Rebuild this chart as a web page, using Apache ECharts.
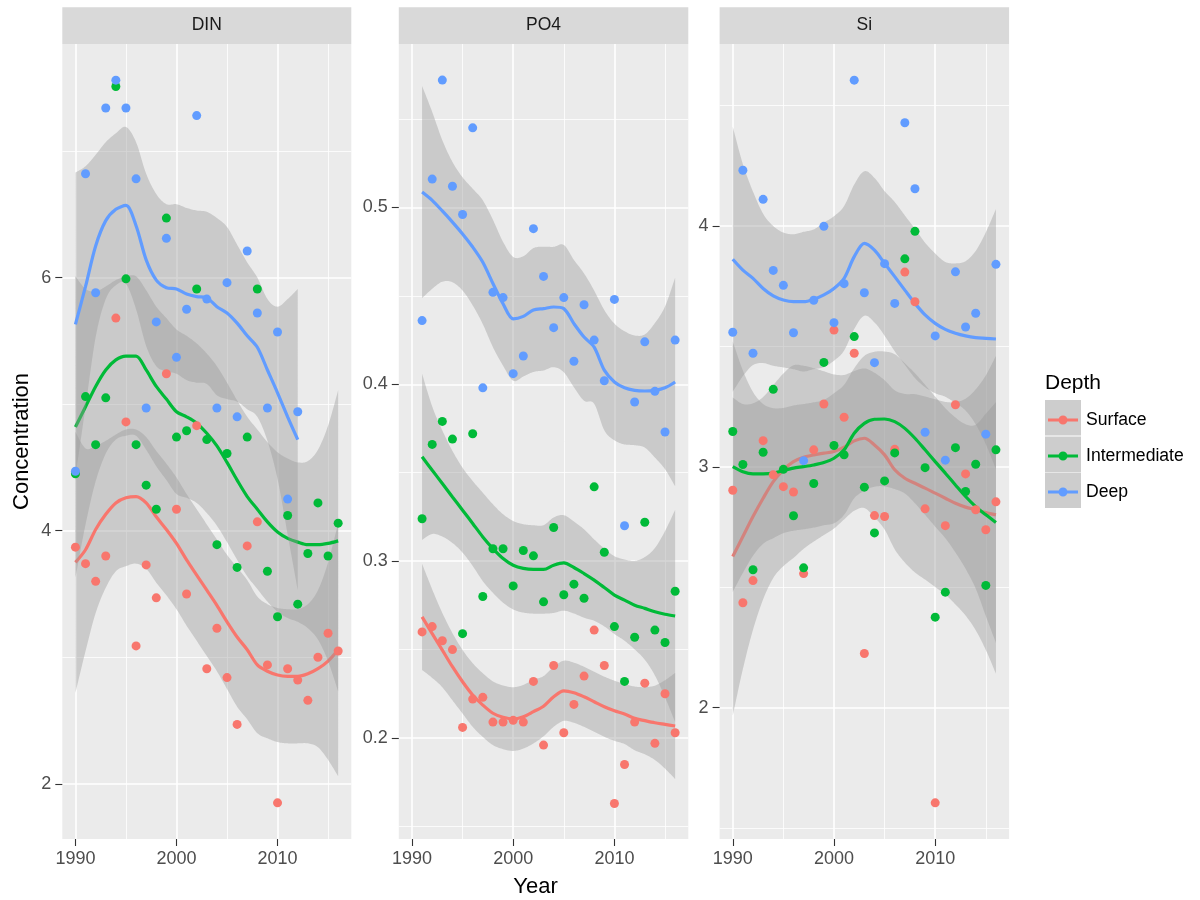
<!DOCTYPE html>
<html><head><meta charset="utf-8">
<script src="https://cdn.jsdelivr.net/npm/echarts@6/dist/echarts.min.js"></script>
<style>html,body{margin:0;padding:0;background:#fff}#chart{width:1200px;height:900px}</style>
</head><body><div id="chart"></div>
<script>
// ---------- data ----------
const years = [1990,1991,1992,1993,1994,1995,1996,1997,1998,1999,2000,2001,2002,2003,2004,2005,2006,2007,2008,2009,2010,2011,2012,2013,2014,2015,2016];
const panelNames = ['DIN', 'PO4', 'Si'];
const depthNames = ['Surface', 'Intermediate', 'Deep'];
const xTicks = [1990, 2000, 2010];
const xMinorTicks = [1995, 2005, 2015];
const dinTicks = [2, 4, 6];
const dinMinorTicks = [3, 5, 7];
const po4Ticks = [0.2, 0.3, 0.4, 0.5];
const po4MinorTicks = [0.15, 0.25, 0.35, 0.45, 0.55];
const siTicks = [2, 3, 4];
const siMinorTicks = [1.5, 2.5, 3.5, 4.5];

// observed points
const dinSurface = [3.87,3.74,3.60,3.80,5.68,4.86,3.09,3.73,3.47,5.24,4.17,3.50,4.83,2.91,3.23,2.84,2.47,3.88,4.07,2.94,1.85,2.91,2.82,2.66,3.00,3.19,3.05];
const dinInter   = [4.45,5.06,4.68,5.05,7.51,5.99,4.68,4.36,4.17,6.47,4.74,4.79,5.91,4.72,3.89,4.61,3.71,4.74,5.91,3.68,3.32,4.12,3.42,3.82,4.22,3.80,4.06];
const dinDeep    = [4.47,6.82,5.88,7.34,7.56,7.34,6.78,4.97,5.65,6.31,5.37,5.75,7.28,5.83,4.97,5.96,4.90,6.21,5.72,4.97,5.57,4.25,4.94,null,null,null,null];
const po4Surface = [null,0.260,0.263,0.255,0.250,0.206,0.222,0.223,0.209,0.209,0.210,0.209,0.232,0.196,0.241,0.203,0.219,0.235,0.261,0.241,0.163,0.185,0.209,0.231,0.197,0.225,0.203];
const po4Inter   = [null,0.324,0.366,0.379,0.369,0.259,0.372,0.280,0.307,0.307,0.286,0.306,0.303,0.277,0.319,0.281,0.287,0.279,0.342,0.305,0.263,0.232,0.257,0.322,0.261,0.254,0.283];
const po4Deep    = [null,0.436,0.516,0.572,0.512,0.496,0.545,0.398,0.452,0.449,0.406,0.416,0.488,0.461,0.432,0.449,0.413,0.445,0.425,0.402,0.448,0.320,0.390,0.424,0.396,0.373,0.425];
const siSurface  = [2.903,2.436,2.528,3.109,2.967,2.918,2.896,2.557,3.071,3.261,3.568,3.206,3.472,2.225,2.798,2.794,3.073,3.809,3.686,2.826,1.605,2.756,3.258,2.971,2.822,2.739,2.855];
const siInter    = [3.147,3.010,2.573,3.061,3.322,2.990,2.797,2.581,2.931,3.434,3.089,3.050,3.541,2.916,2.726,2.942,3.058,3.864,3.978,2.997,2.376,2.480,3.080,2.898,3.011,2.508,3.071];
const siDeep     = [3.559,4.232,3.472,4.111,3.816,3.754,3.557,3.026,3.692,3.999,3.599,3.761,4.606,3.723,3.433,3.844,3.679,4.429,4.155,3.144,3.544,3.028,3.810,3.581,3.638,3.136,3.841];

// smoothed (loess) fits
const dinSurfaceFit = [3.75,3.85,4.01,4.13,4.22,4.26,4.27,4.22,4.11,4.01,3.90,3.77,3.65,3.53,3.41,3.28,3.16,3.06,2.94,2.89,2.86,2.85,2.85,2.87,2.91,2.97,3.06];
const dinInterFit   = [4.82,4.98,5.14,5.27,5.35,5.38,5.38,5.27,5.14,5.04,4.94,4.90,4.85,4.77,4.67,4.54,4.40,4.27,4.17,4.07,3.99,3.94,3.91,3.89,3.89,3.90,3.92];
const dinDeepFit    = [5.63,5.93,6.25,6.45,6.54,6.57,6.41,6.14,5.98,5.92,5.91,5.87,5.85,5.84,5.77,5.72,5.64,5.54,5.45,5.27,5.09,4.90,4.72,null,null,null,null];
const po4SurfaceFit = [null,0.2685,0.2590,0.2497,0.2403,0.2318,0.2243,0.2186,0.2140,0.2117,0.2107,0.2120,0.2149,0.2180,0.2233,0.2267,0.2256,0.2233,0.2205,0.2177,0.2154,0.2136,0.2111,0.2098,0.2086,0.2077,0.2068];
const po4InterFit   = [null,0.3590,0.3514,0.3439,0.3363,0.3288,0.3213,0.3137,0.3071,0.3015,0.2977,0.2959,0.2953,0.2953,0.2977,0.2990,0.2964,0.2930,0.2893,0.2851,0.2808,0.2780,0.2751,0.2733,0.2714,0.2700,0.2690];
const po4DeepFit    = [null,0.5087,0.5040,0.4980,0.4917,0.4850,0.4776,0.4690,0.4570,0.4455,0.4370,0.4384,0.4420,0.4428,0.4437,0.4428,0.4343,0.4267,0.4210,0.4080,0.4013,0.3980,0.3966,0.3962,0.3966,0.3980,0.4013];
const siSurfaceFit  = [2.628,2.711,2.794,2.870,2.939,2.988,3.022,3.040,3.050,3.057,3.064,3.082,3.108,3.119,3.091,3.050,2.988,2.953,2.932,2.912,2.891,2.870,2.849,2.833,2.822,2.810,2.801];
const siInterFit    = [3.001,2.980,2.971,2.971,2.974,2.985,2.995,3.001,3.008,3.018,3.036,3.071,3.140,3.181,3.198,3.199,3.188,3.160,3.119,3.071,3.022,2.974,2.925,2.877,2.835,2.801,2.769];
const siDeepFit     = [3.862,3.817,3.783,3.741,3.710,3.693,3.686,3.686,3.696,3.714,3.741,3.783,3.873,3.928,3.900,3.845,3.790,3.734,3.679,3.631,3.596,3.571,3.555,3.544,3.537,3.534,3.531];

// half-width of the confidence ribbons
const dinSurfaceBand = [1.03,0.80,0.66,0.58,0.54,0.54,0.53,0.52,0.52,0.52,0.52,0.52,0.52,0.52,0.52,0.53,0.55,0.55,0.54,0.53,0.53,0.53,0.53,0.55,0.62,0.78,1.00];
const dinInterBand   = [1.19,0.93,0.75,0.66,0.63,0.63,0.63,0.63,0.63,0.64,0.65,0.64,0.63,0.63,0.63,0.63,0.63,0.63,0.63,0.63,0.63,0.63,0.63,0.66,0.75,0.93,1.19];
const dinDeepBand    = [1.20,0.95,0.72,0.62,0.60,0.62,0.66,0.68,0.68,0.66,0.67,0.68,0.68,0.68,0.70,0.68,0.62,0.58,0.55,0.56,0.68,0.93,1.19,null,null,null,null];
const po4SurfaceBand = [null,0.030,0.025,0.021,0.019,0.018,0.018,0.018,0.018,0.018,0.018,0.018,0.018,0.017,0.017,0.017,0.017,0.017,0.017,0.017,0.017,0.017,0.018,0.019,0.021,0.025,0.030];
const po4InterBand   = [null,0.047,0.036,0.030,0.026,0.024,0.024,0.025,0.025,0.025,0.025,0.025,0.025,0.025,0.027,0.027,0.026,0.025,0.023,0.022,0.022,0.023,0.025,0.029,0.036,0.047,0.060];
const po4DeepBand    = [null,0.060,0.050,0.040,0.034,0.032,0.033,0.035,0.036,0.035,0.035,0.034,0.035,0.035,0.034,0.036,0.036,0.036,0.032,0.034,0.033,0.032,0.031,0.032,0.038,0.046,0.059];
const siSurfaceBand  = [0.66,0.55,0.47,0.42,0.40,0.40,0.40,0.38,0.36,0.34,0.32,0.30,0.29,0.29,0.30,0.31,0.33,0.35,0.37,0.38,0.39,0.40,0.42,0.45,0.50,0.57,0.66];
const siInterBand    = [0.52,0.42,0.34,0.29,0.27,0.26,0.26,0.26,0.26,0.26,0.27,0.27,0.27,0.28,0.28,0.28,0.28,0.27,0.27,0.27,0.27,0.27,0.28,0.30,0.34,0.42,0.50];
const siDeepBand     = [0.55,0.44,0.36,0.31,0.29,0.28,0.28,0.29,0.29,0.30,0.30,0.30,0.30,0.30,0.30,0.30,0.31,0.31,0.31,0.30,0.29,0.28,0.29,0.31,0.36,0.44,0.54];

// ---------- assembly ----------
const FONT = '"Liberation Sans", Arial, Helvetica, sans-serif';
const colors = ['#F8766D', '#00BA38', '#619CFF'];
const points = [[dinSurface, dinInter, dinDeep], [po4Surface, po4Inter, po4Deep], [siSurface, siInter, siDeep]];
const fits = [[dinSurfaceFit, dinInterFit, dinDeepFit], [po4SurfaceFit, po4InterFit, po4DeepFit], [siSurfaceFit, siInterFit, siDeepFit]];
const bands = [[dinSurfaceBand, dinInterBand, dinDeepBand], [po4SurfaceBand, po4InterBand, po4DeepBand], [siSurfaceBand, siInterBand, siDeepBand]];
const majorY = [dinTicks, po4Ticks, siTicks];
const minorY = [dinMinorTicks, po4MinorTicks, siMinorTicks];
const yRange = [[1.5645, 7.8455], [0.1429, 0.5924], [1.455, 4.756]];
const xRange = [1988.7, 2017.3];

const gridBoxes = [
  {left: 62.3, width: 289},
  {left: 398.8, width: 289.5},
  {left: 719.6, width: 289.5}
];
const TOP = 44, HEIGHT = 795;

// Catmull-Rom smoothing of pixel coordinates (rendering only)
function smoothPath(pts) {
  const out = [];
  const n = pts.length;
  for (let i = 0; i < n - 1; i++) {
    const p0 = pts[Math.max(0, i - 1)], p1 = pts[i], p2 = pts[i + 1], p3 = pts[Math.min(n - 1, i + 2)];
    const steps = 10;
    for (let s = 0; s < steps; s++) {
      const t = s / steps, t2 = t * t, t3 = t2 * t;
      const f = k => 0.5 * (2 * p1[k] + (-p0[k] + p2[k]) * t + (2 * p0[k] - 5 * p1[k] + 4 * p2[k] - p3[k]) * t2 + (-p0[k] + 3 * p1[k] - 3 * p2[k] + p3[k]) * t3);
      out.push([f(0), f(1)]);
    }
  }
  out.push(pts[n - 1]);
  return out;
}

const grids = [], xAxes = [], yAxes = [], series = [], graphics = [];
const labelFmt = v => String(Math.round(v * 1000) / 1000);

gridBoxes.forEach((g, p) => {
  grids.push({left: g.left, top: TOP, width: g.width, height: HEIGHT, show: true,
    backgroundColor: '#EBEBEB', borderWidth: 0, containLabel: false, outerBoundsMode: 'none'});
  xAxes.push({type: 'value', gridIndex: p, min: xRange[0], max: xRange[1],
    axisLine: {show: false},
    axisTick: {show: true, length: 7, customValues: xTicks, lineStyle: {color: '#333333', width: 1.1}},
    axisLabel: {customValues: xTicks, formatter: labelFmt, color: '#4D4D4D', fontSize: 18, fontFamily: FONT, margin: 11},
    splitLine: {show: true, lineStyle: {color: '#FFFFFF', width: 1.6}},
    name: p === 1 ? 'Year' : '', nameLocation: 'middle', nameGap: 37,
    nameTextStyle: {color: '#000', fontSize: 22, fontFamily: FONT, padding: [0, 16, 0, 0]}
  });
  xAxes.push({type: 'value', gridIndex: p, min: xRange[0], max: xRange[1], position: 'bottom',
    axisLine: {show: false}, axisTick: {show: false, customValues: xMinorTicks},
    axisLabel: {show: false, customValues: xMinorTicks},
    splitLine: {show: true, lineStyle: {color: '#FFFFFF', width: 0.8}}
  });
  yAxes.push({type: 'value', gridIndex: p, min: yRange[p][0], max: yRange[p][1],
    axisLine: {show: false},
    axisTick: {show: true, length: 7, customValues: majorY[p], lineStyle: {color: '#333333', width: 1.1}},
    axisLabel: {customValues: majorY[p], formatter: labelFmt, color: '#4D4D4D', fontSize: 18, fontFamily: FONT, margin: 11},
    splitLine: {show: true, lineStyle: {color: '#FFFFFF', width: 1.6}},
    name: p === 0 ? 'Concentration' : '', nameLocation: 'middle', nameGap: 29,
    nameTextStyle: {color: '#000', fontSize: 22, fontFamily: FONT}
  });
  yAxes.push({type: 'value', gridIndex: p, min: yRange[p][0], max: yRange[p][1], position: 'left',
    axisLine: {show: false}, axisTick: {show: false, customValues: minorY[p]},
    axisLabel: {show: false, customValues: minorY[p]},
    splitLine: {show: true, lineStyle: {color: '#FFFFFF', width: 0.8}}
  });

  graphics.push({type: 'rect', left: g.left, top: 7.3, z: 5,
    shape: {width: g.width, height: TOP - 7.3}, style: {fill: '#D9D9D9'}});
  graphics.push({type: 'text', x: g.left + g.width / 2, y: (7.3 + TOP) / 2, z: 6,
    style: {text: panelNames[p], fill: '#1A1A1A', font: '17.5px ' + FONT, align: 'center', verticalAlign: 'middle'}});

  for (let d = 0; d < 3; d++) {
    const rows = [], fit = [];
    years.forEach((yr, i) => {
      const f = fits[p][d][i], h = bands[p][d][i];
      if (f == null || h == null) return;
      rows.push([yr, f - h, f + h]);
      fit.push([yr, f]);
    });
    series.push({type: 'custom', name: depthNames[d] + ' CI', coordinateSystem: 'cartesian2d',
      xAxisIndex: 2 * p, yAxisIndex: 2 * p, silent: true, z: 2 + 2 * d, clip: true,
      data: rows, encode: {x: 0, y: [1, 2]},
      renderItem: (params, api) => {
        if (params.dataIndex !== 0) return null;
        const upper = smoothPath(rows.map(r => api.coord([r[0], r[2]])));
        const lower = smoothPath(rows.map(r => api.coord([r[0], r[1]]))).reverse();
        return {type: 'polygon', shape: {points: upper.concat(lower)},
          style: {fill: 'rgba(153,153,153,0.4)', stroke: null}};
      }
    });
    series.push({type: 'line', name: depthNames[d], xAxisIndex: 2 * p, yAxisIndex: 2 * p,
      data: fit, symbol: 'none', smooth: 0.3, z: 3 + 2 * d, silent: true,
      lineStyle: {color: colors[d], width: 3.2}, itemStyle: {color: colors[d]}});
  }
  for (let d = 0; d < 3; d++) {
    const pts = [];
    years.forEach((yr, i) => { const v = points[p][d][i]; if (v != null) pts.push([yr, v]); });
    series.push({type: 'scatter', name: depthNames[d], xAxisIndex: 2 * p, yAxisIndex: 2 * p,
      data: pts, symbolSize: 9, z: 20, itemStyle: {color: colors[d], opacity: 1}});
  }
});

graphics.push({type: 'text', x: 1045, y: 383, z: 6,
  style: {text: 'Depth', fill: '#000', font: '21px ' + FONT, align: 'left', verticalAlign: 'middle'}});
[400, 436.5, 472.5].forEach(y => {
  graphics.push({type: 'rect', left: 1045, top: y, z: 0, shape: {width: 36, height: 35.5}, style: {fill: '#CDCDCD'}});
});

const keyIcon = 'path://M0,3L30,3L30,6L0,6Z M10.5,4.5A4.5,4.5 0 1 1 19.5,4.5A4.5,4.5 0 1 1 10.5,4.5Z';

const option = {
  backgroundColor: '#FFFFFF',
  animation: false,
  grid: grids,
  xAxis: xAxes,
  yAxis: yAxes,
  legend: {
    orient: 'vertical', left: 1048, top: 402, padding: 0, itemWidth: 30, itemHeight: 9, itemGap: 0,
    textStyle: {fontSize: 17.6, fontFamily: FONT, color: '#000', lineHeight: 36, padding: [0, 0, 0, 3]},
    data: depthNames.map((n, i) => ({name: n, icon: keyIcon, itemStyle: {color: colors[i]}}))
  },
  graphic: graphics,
  series: series
};

const chart = echarts.init(document.getElementById('chart'), null, {renderer: 'canvas'});
chart.setOption(option);
</script>
</body></html>
